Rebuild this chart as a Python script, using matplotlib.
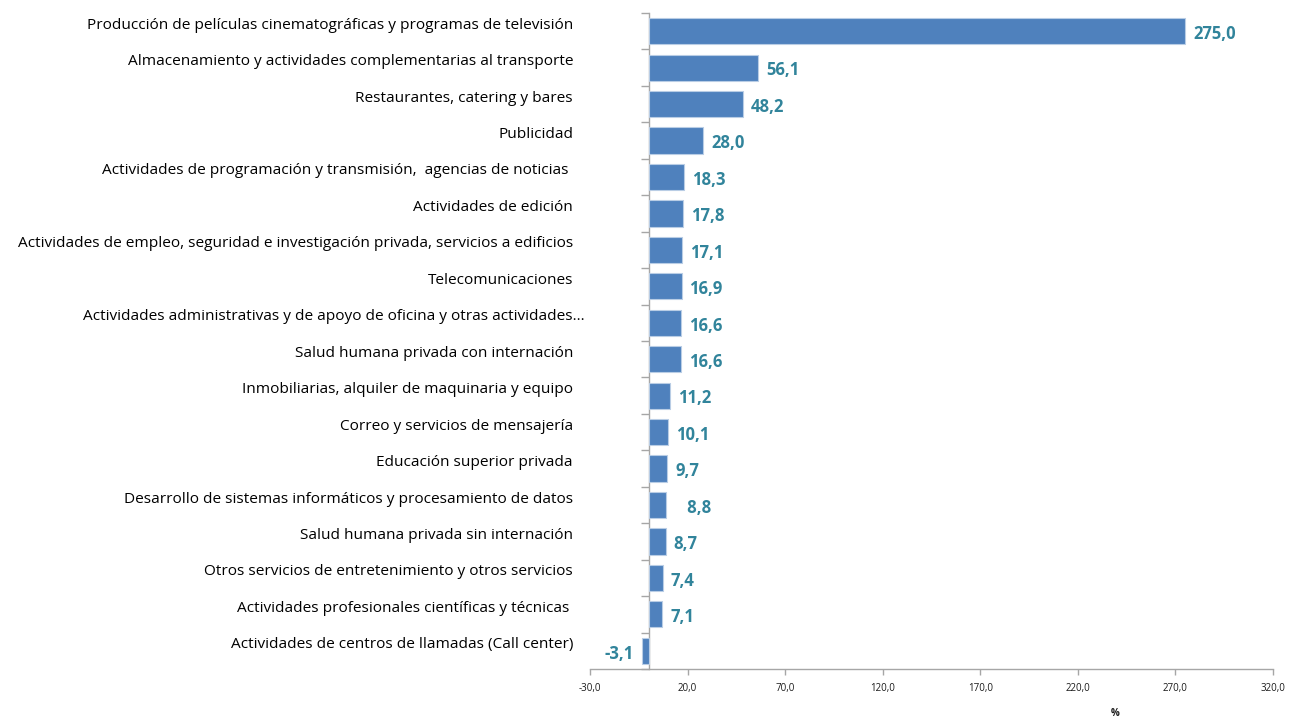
import matplotlib
matplotlib.use("Agg")
import matplotlib.pyplot as plt
from matplotlib.ticker import FixedLocator
from matplotlib.transforms import offset_copy
import numpy as np

categories = [
    "Producción de películas cinematográficas y programas de televisión",
    "Almacenamiento y actividades complementarias al transporte",
    "Restaurantes, catering y bares",
    "Publicidad",
    "Actividades de programación y transmisión,  agencias de noticias ",
    "Actividades de edición",
    "Actividades de empleo, seguridad e investigación privada, servicios a edificios",
    "Telecomunicaciones",
    "Actividades administrativas y de apoyo de oficina y otras actividades…",
    "Salud humana privada con internación",
    "Inmobiliarias, alquiler de maquinaria y equipo",
    "Correo y servicios de mensajería",
    "Educación superior privada",
    "Desarrollo de sistemas informáticos y procesamiento de datos",
    "Salud humana privada sin internación",
    "Otros servicios de entretenimiento y otros servicios",
    "Actividades profesionales científicas y técnicas ",
    "Actividades de centros de llamadas (Call center)",
]
values = [275.0, 56.1, 48.2, 28.0, 18.3, 17.8, 17.1, 16.9, 16.6, 16.6,
          11.2, 10.1, 9.7, 8.8, 8.7, 7.4, 7.1, -3.1]
value_labels = ["275,0", "56,1", "48,2", "28,0", "18,3", "17,8", "17,1", "16,9",
                "16,6", "16,6", "11,2", "10,1", "9,7", "   8,8", "8,7", "7,4", "7,1", "-3,1"]
xticks = [-30, 20, 70, 120, 170, 220, 270, 320]
xtick_labels = ["-30,0", "20,0", "70,0", "120,0", "170,0", "220,0", "270,0", "320,0"]
unit_label = "%"

plt.rcParams['font.family'] = ['Open Sans', 'DejaVu Sans']

W, H = 1289, 721
fig = plt.figure(figsize=(W / 100, H / 100), dpi=100)
ax = fig.add_axes([590 / W, 1 - 669 / H, (1273 - 590) / W, (669 - 13) / H])

y = np.arange(len(categories))
bar_color = "#4F81BD"
label_color = "#31849B"
ax.barh(y, values, height=0.72, color=bar_color, edgecolor="#B9CDE5", linewidth=0.8, zorder=3)

ax.set_xlim(-30, 320)
ax.set_ylim(len(categories) - 0.5, -0.5)

for s in ["top", "right"]:
    ax.spines[s].set_visible(False)
ax.spines["left"].set_position(("data", 0))
for s in ["left", "bottom"]:
    ax.spines[s].set_color("#A6A6A6")
    ax.spines[s].set_linewidth(1.0)

ax.set_xticks(xticks)
ax.set_xticklabels(xtick_labels, fontsize=7, color="#1a1a1a")
ax.tick_params(axis="x", length=4, width=1, color="#A6A6A6", pad=6)

ax.set_yticks([])
ax.yaxis.set_minor_locator(FixedLocator(np.arange(-0.5, len(categories) + 0.5, 1.0)))
ax.tick_params(axis="y", which="minor", length=6, width=1, color="#A6A6A6", direction="out")

for i, cat in enumerate(categories):
    dx = -5 if cat.endswith("…") else -17
    tr = offset_copy(ax.transData, fig=fig, x=dx, y=6, units="dots")
    ax.text(-30, i, cat, transform=tr, ha="right", va="center",
            fontsize=11.1, color="#000000")

for i, (v, lab) in enumerate(zip(values, value_labels)):
    if v >= 0:
        tr = offset_copy(ax.transData, fig=fig, x=8, y=-1, units="dots")
        ha = "left"
    else:
        tr = offset_copy(ax.transData, fig=fig, x=-9, y=-1, units="dots")
        ha = "right"
    ax.text(v, i + 0.05, lab, transform=tr, ha=ha, va="center",
            fontsize=12, fontweight="bold", color=label_color)

fig.text(1115 / W, 1 - 714 / H, unit_label, ha="center", va="center",
         fontsize=7, fontweight="bold", color="#1a1a1a")

fig.savefig("out.png", dpi=100)
